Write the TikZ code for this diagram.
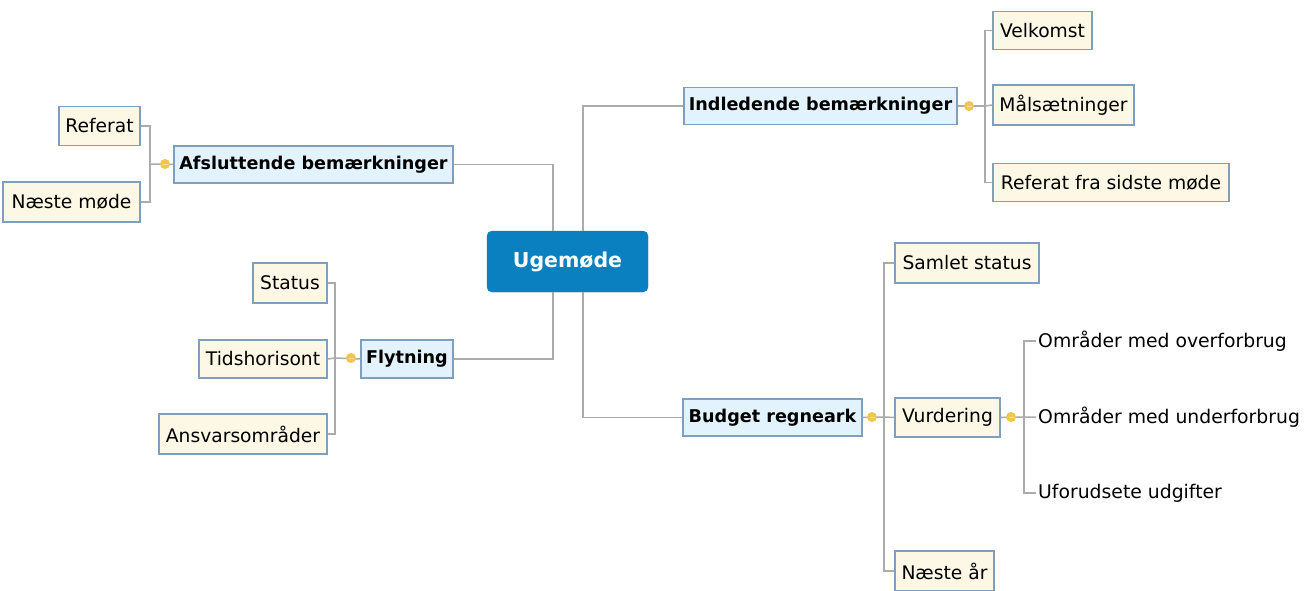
\documentclass[tikz,border=0pt]{standalone}
\usepackage{fontspec}
\setmainfont{DejaVu Sans}
\definecolor{centerblue}{HTML}{0A80C0}
\definecolor{mainfill}{HTML}{E2F3FD}
\definecolor{childfill}{HTML}{FDF8E6}
\definecolor{boxborder}{HTML}{7F9FBF}
\definecolor{linegray}{HTML}{ABABAB}
\definecolor{dotyellow}{HTML}{EEC650}
\definecolor{dotdark}{HTML}{F8E4A0}
\tikzset{
  centerbox/.style={draw=centerblue, fill=centerblue, rounded corners=5pt, text=white,
     font=\fontsize{20.5}{24}\selectfont\bfseries, minimum width=161pt, minimum height=61pt, inner sep=0pt},
  mainbox/.style={draw=boxborder, fill=mainfill, line width=1.3pt,
     font=\fontsize{17.6}{21}\selectfont\bfseries, minimum height=37pt, inner sep=0pt},
  childbox/.style={draw=boxborder, fill=childfill, line width=1.3pt,
     font=\fontsize{18.7}{22}\selectfont, minimum height=39pt, inner sep=0pt},
  plain/.style={font=\fontsize{18.8}{22}\selectfont, inner sep=2pt, anchor=west},
  conn/.style={draw=linegray, line width=1.5pt},
  knob/.style={circle, fill=dotyellow, minimum size=10pt, inner sep=0pt,
     path picture={\draw[dotdark, line width=0.9pt] ([xshift=-2.5pt]path picture bounding box.center) -- ([xshift=2.5pt]path picture bounding box.center);}},
}
\begin{document}
\begin{tikzpicture}[x=1pt, y=-1pt]
\useasboundingbox (0,0) rectangle (1316,591);
\fill[white] (0,0) rectangle (1316,591);

% junction coordinates
\coordinate (cl) at (553,0);
\coordinate (cr) at (583,0);
\coordinate (vind) at (985,106);
\coordinate (vafs) at (150,164);
\coordinate (vfly) at (335,358);
\coordinate (vbud) at (884,417);
\coordinate (vvur) at (1024,417);

% nodes
\node[centerbox] (c) at (567.5,261.5) {\raisebox{-3pt}{Ugemøde}};

\node[mainbox, minimum width=273pt] (ind) at (820.5,106) {Indledende bemærkninger};
\node[mainbox, minimum width=279pt] (afs) at (313.5,164.5) {Afsluttende bemærkninger};
\node[mainbox, minimum width=92pt, minimum height=38pt] (fly) at (407,359) {Flytning};
\node[mainbox, minimum width=179pt] (bud) at (772.5,417.5) {Budget regneark};

\node[childbox, minimum width=99pt, minimum height=38pt] (vel) at (1042.5,30.5) {Velkomst};
\node[childbox, minimum width=141pt, minimum height=40pt] (mal) at (1063.5,105) {Målsætninger};
\node[childbox, minimum width=236pt, minimum height=38pt] (ref) at (1111,182.5) {Referat fra sidste møde};

\node[childbox, minimum width=81pt] (referat) at (99.5,126) {Referat};
\node[childbox, minimum width=137pt, minimum height=40pt] (naeste) at (71.5,202) {Næste møde};

\node[childbox, minimum width=74pt, minimum height=40pt] (status) at (290,283) {Status};
\node[childbox, minimum width=128pt, minimum height=38pt] (tids) at (263,359) {Tidshorisont};
\node[childbox, minimum width=168pt, minimum height=40pt] (ansv) at (243,434) {Ansvarsområder};

\node[childbox, minimum width=144pt, minimum height=40pt] (samlet) at (967,263) {Samlet status};
\node[childbox, minimum width=105pt] (vurd) at (947.5,417.5) {Vurdering};
\node[childbox, minimum width=99pt, minimum height=40pt] (naestear) at (944.5,571) {Næste år};

\node[plain] (over) at (1036,341) {Områder med overforbrug};
\node[plain] (under) at (1036,417) {Områder med underforbrug};
\node[plain] (ufor) at (1036,493) {Uforudsete udgifter};

% connectors
\draw[conn] (c.north -| cl) |- (afs.east);
\draw[conn] (c.south -| cl) |- (fly.east);
\draw[conn] (c.north -| cr) |- (ind.west);
\draw[conn] (c.south -| cr) |- (bud.west);

\draw[conn] (vel.west) -| (vind) |- (ref.west);
\draw[conn] (vind) -- (mal.west);
\draw[conn] (ind.east) -- (vind);

\draw[conn] (referat.east) -| (vafs) |- (naeste.east);
\draw[conn] (afs.west) -- (vafs);

\draw[conn] (status.east) -| (vfly) |- (ansv.east);
\draw[conn] (tids.east) -- (vfly) -- (fly.west);

\draw[conn] (samlet.west) -| (vbud) |- (naestear.west);
\draw[conn] (bud.east) -- (vbud) -- (vurd.west);

\draw[conn] (over.west) -| (vvur) |- (ufor.west);
\draw[conn] (vurd.east) -- (vvur) -- (under.west);

% knobs
\node[knob] (kind) at (969,106) {};
\node[knob] (kafs) at (165,164) {};
\node[knob] (kfly) at (351,358) {};
\node[knob] (kbud) at (872,417) {};
\node[knob] (kvur) at (1011,417) {};
\end{tikzpicture}
\end{document}
